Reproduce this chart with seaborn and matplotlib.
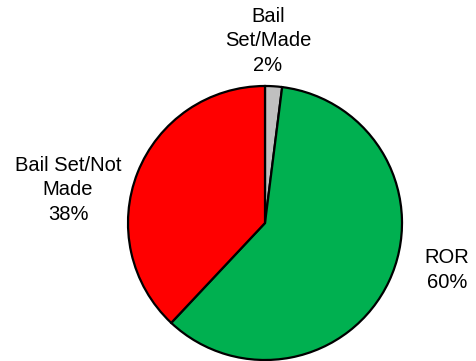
import matplotlib
matplotlib.use("Agg")
import matplotlib.pyplot as plt
import seaborn as sns

sns.set_theme(style="white")
plt.rcParams["font.family"] = ["Liberation Sans", "DejaVu Sans"]

categories = ["Bail\nSet/Made", "ROR", "Bail Set/Not\nMade"]
shares = [2, 60, 38]
colors = ["#c0c0c0", "#00b050", "#ff0000"]
label_pos = [(268, 320), (447, 91), (68, 171)]

fig = plt.figure(figsize=(4.77, 3.61), dpi=100)
ax = fig.add_axes([0, 0, 1, 1])

ax.pie(shares, colors=colors, startangle=90, counterclock=False,
       center=(265, 138), radius=137, frame=True,
       wedgeprops=dict(edgecolor="black", linewidth=1.6))
ax.set_xlim(0, 477)
ax.set_ylim(0, 361)
ax.set_aspect("equal")
ax.axis("off")

for name, val, (x, y) in zip(categories, shares, label_pos):
    ax.text(x, y, f"{name}\n{val}%", ha="center", va="center",
            fontsize=14.5, linespacing=1.35, color="black")

fig.savefig("out.png", dpi=100)
